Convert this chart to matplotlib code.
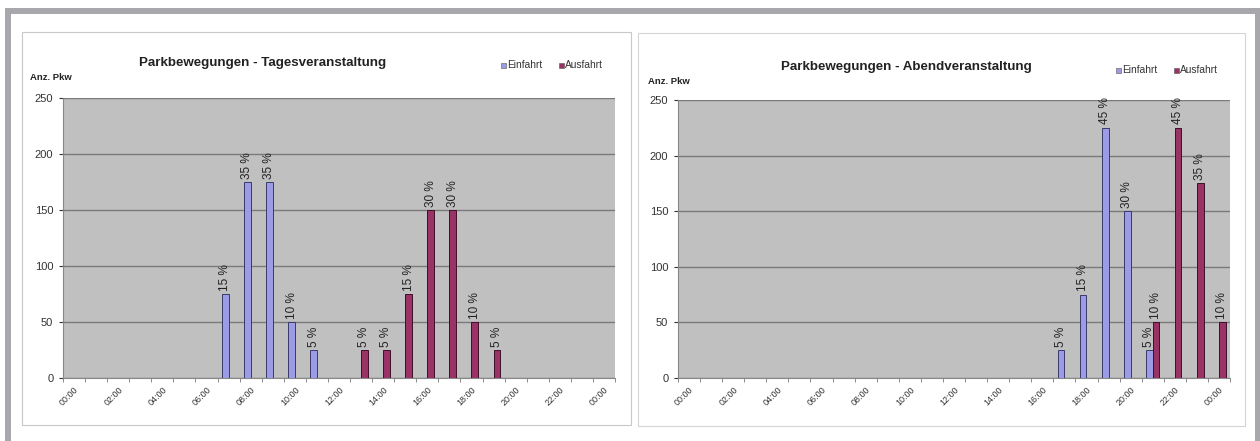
import numpy as np
import matplotlib
matplotlib.use("Agg")
import matplotlib.pyplot as plt
from matplotlib.patches import Rectangle

plt.rcParams["font.family"] = ["Liberation Sans", "DejaVu Sans"]

# hours 00:00 .. 00:00 (25 categories)
hours = ["%02d:00" % (h % 24) for h in range(25)]

# Tagesveranstaltung
day_in = [0, 0, 0, 0, 0, 0, 0, 75, 175, 175, 50, 25, 0, 0, 0, 0, 0, 0, 0, 0, 0, 0, 0, 0, 0]
day_out = [0, 0, 0, 0, 0, 0, 0, 0, 0, 0, 0, 0, 0, 25, 25, 75, 150, 150, 50, 25, 0, 0, 0, 0, 0]
day_in_pct = {7: "15 %", 8: "35 %", 9: "35 %", 10: "10 %", 11: "5 %"}
day_out_pct = {13: "5 %", 14: "5 %", 15: "15 %", 16: "30 %", 17: "30 %", 18: "10 %", 19: "5 %"}

# Abendveranstaltung
eve_in = [0] * 17 + [25, 75, 225, 150, 25, 0, 0, 0]
eve_out = [0] * 21 + [50, 225, 175, 50]
eve_in_pct = {17: "5 %", 18: "15 %", 19: "45 %", 20: "30 %", 21: "5 %"}
eve_out_pct = {21: "10 %", 22: "45 %", 23: "35 %", 24: "10 %"}

c_in = "#9b9be6"
c_out = "#993366"
W, H = 1260, 441

fig = plt.figure(figsize=(W / 100, H / 100), dpi=100)
fig.patch.set_facecolor("white")


def px_rect(x0, y0, x1, y1, **kw):
    # rectangle in pixel coords (origin top-left), drawn behind the axes
    r = Rectangle((x0 / W, 1 - y1 / H), (x1 - x0) / W, (y1 - y0) / H,
                  transform=fig.transFigure, zorder=-5, **kw)
    fig.patches.append(r)


def px_text(x, y, s, **kw):
    fig.text(x / W, 1 - y / H, s, **kw)


# outer grey frame
frame = "#a7a7ac"
px_rect(5, 8, 1260, 14, facecolor=frame, edgecolor="none")
px_rect(5, 8, 11, 441, facecolor=frame, edgecolor="none")
px_rect(1255, 8, 1260, 441, facecolor=frame, edgecolor="none")

# chart panels
px_rect(22, 32, 631, 425, facecolor="white", edgecolor="#c8c8c8", lw=0.8)
px_rect(638, 33, 1245, 426, facecolor="white", edgecolor="#d4d4d4", lw=0.8)


def chart(left_px, top_px, title, title_xy, anz_xy, legend_xy, vin, vout, pin, pout):
    ax = fig.add_axes([left_px / W, (H - 378) / H, 552 / W, (378 - top_px) / H])
    ax.set_facecolor("#c0c0c0")
    x = np.arange(len(hours))
    bw = 0.3
    ax.bar(x - bw / 2, vin, width=bw, color=c_in, edgecolor="#3a3a6a", lw=0.7, zorder=3)
    ax.bar(x + bw / 2, vout, width=bw, color=c_out, edgecolor="#3d1028", lw=0.7, zorder=3)
    for k, s in pin.items():
        ax.text(k - bw / 2, vin[k] + 3, s, rotation=90, ha="center", va="bottom",
                fontsize=8.5, color="#222222", zorder=4)
    for k, s in pout.items():
        ax.text(k + bw / 2, vout[k] + 3, s, rotation=90, ha="center", va="bottom",
                fontsize=8.5, color="#222222", zorder=4)
    ax.set_xlim(-0.5, 24.5)
    ax.set_ylim(0, 250)
    ax.set_yticks(range(0, 251, 50))
    ax.yaxis.grid(True, color="#7a7a7a", lw=1, zorder=1)
    ax.set_axisbelow(True)
    ax.set_xticks(x[::2])
    ax.set_xticklabels(hours[::2], rotation=45, ha="right", rotation_mode="anchor",
                       fontsize=6.5, color="#333333")
    ax.set_xticks(np.arange(-0.5, 25, 1), minor=True)
    ax.tick_params(axis="x", which="major", length=0, pad=5)
    ax.tick_params(axis="x", which="minor", length=3, color="#777777")
    ax.tick_params(axis="y", length=3, labelsize=8, colors="#333333", pad=4)
    for side in ["top", "right"]:
        ax.spines[side].set_visible(False)
    ax.spines["left"].set_color("#888888")
    ax.spines["bottom"].set_color("#888888")

    px_text(title_xy[0], title_xy[1], title, ha="center", va="center",
            fontsize=9.6, fontweight="bold", color="#222222")
    px_text(anz_xy[0], anz_xy[1], "Anz. Pkw", ha="left", va="center",
            fontsize=6.8, fontweight="bold", color="#222222")
    # legend
    lx0, ly = legend_xy
    for i, (lab, col) in enumerate([("Einfahrt", c_in), ("Ausfahrt", c_out)]):
        lx = lx0 + i * 58
        px_rect(lx, ly - 2.5, lx + 5, ly + 2.5, facecolor=col, edgecolor="#555555", lw=0.4)
        px_text(lx + 6, ly, lab, ha="left", va="center", fontsize=7.3, color="#333333")
    return ax


chart(63, 98, "Parkbewegungen - Tagesveranstaltung", (263, 63), (30, 77), (501, 65),
      day_in, day_out, day_in_pct, day_out_pct)
chart(678, 100, "Parkbewegungen - Abendveranstaltung", (906, 67), (648, 82), (1116, 70),
      eve_in, eve_out, eve_in_pct, eve_out_pct)

fig.savefig("out.png", dpi=100)
